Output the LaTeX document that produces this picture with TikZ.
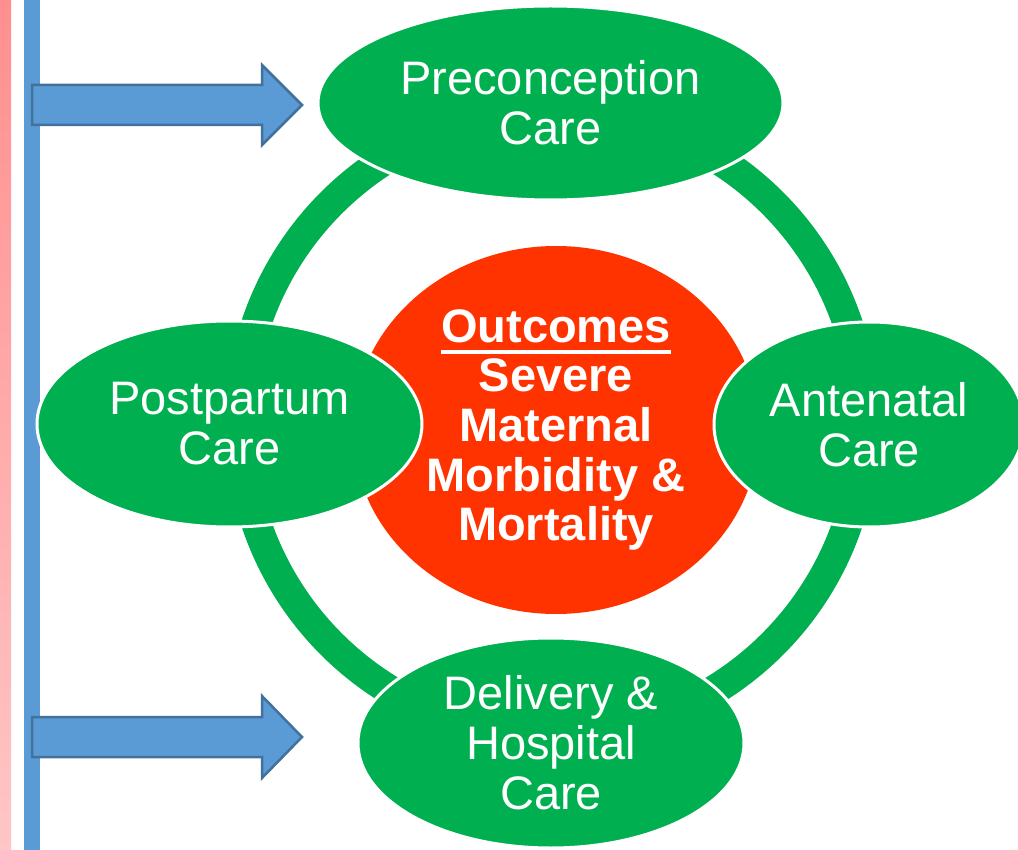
\documentclass[tikz,border=0pt]{standalone}
\usepackage{fontspec}
\setmainfont{Liberation Sans}
\usetikzlibrary{shapes.geometric}
\definecolor{ringgreen}{HTML}{00B050}
\definecolor{outred}{HTML}{FF3300}
\definecolor{barblue}{HTML}{5B9BD5}
\definecolor{arrowedge}{HTML}{41719C}
\definecolor{pinktop}{HTML}{FF8F8F}
\definecolor{pinkbot}{HTML}{FFC6C6}
\newcommand{\ulword}[1]{\setbox0\hbox{#1}\rlap{\rule[-11.5pt]{\wd0}{3.5pt}}\box0}
\begin{document}
\begin{tikzpicture}[x=1pt,y=-1pt,
 stage/.style={ellipse, fill=ringgreen, draw=white, line width=3pt, inner sep=0pt, text=white, align=center, font=\fontsize{47}{50}\selectfont},
 outcome/.style={ellipse, fill=outred, inner sep=0pt, text=white, align=center, font=\fontsize{47}{49.7}\selectfont\bfseries},
 bigarrow/.style={fill=barblue, draw=arrowedge, line width=2.5pt, line join=miter}]
\useasboundingbox (0,0) rectangle (1018,850);
\clip (0,0) rectangle (1018,850);
\shade[top color=pinktop, bottom color=pinkbot] (0,0) rectangle (11,850);
\fill[barblue] (24,0) rectangle (40,850);
\draw[ringgreen, line width=30pt] (552,423.5) circle[radius=312pt];
\node[outcome, minimum width=406pt, minimum height=368pt] (out) at (556,430) {\ulword{Outcomes}\\Severe\\Maternal\\Morbidity \&\\Mortality};
\node[stage, minimum width=465pt, minimum height=194pt] (pre) at (550.5,103) {Preconception\\Care};
\node[stage, minimum width=385pt, minimum height=206pt] (post) at (229.5,424) {Postpartum\\Care};
\node[stage, minimum width=310pt, minimum height=205pt] (ante) at (869,424.5) {Antenatal\\Care};
\node[stage, minimum width=386pt, minimum height=210pt] (del) at (551,743) {Delivery \&\\Hospital\\Care};
\draw[bigarrow] (32,85) -- (262,85) -- (262,65) -- (302,105) -- (262,145) -- (262,125) -- (32,125) -- cycle;
\draw[bigarrow] (32,717) -- (262,717) -- (262,696) -- (302,737) -- (262,778) -- (262,757) -- (32,757) -- cycle;
\end{tikzpicture}
\end{document}
